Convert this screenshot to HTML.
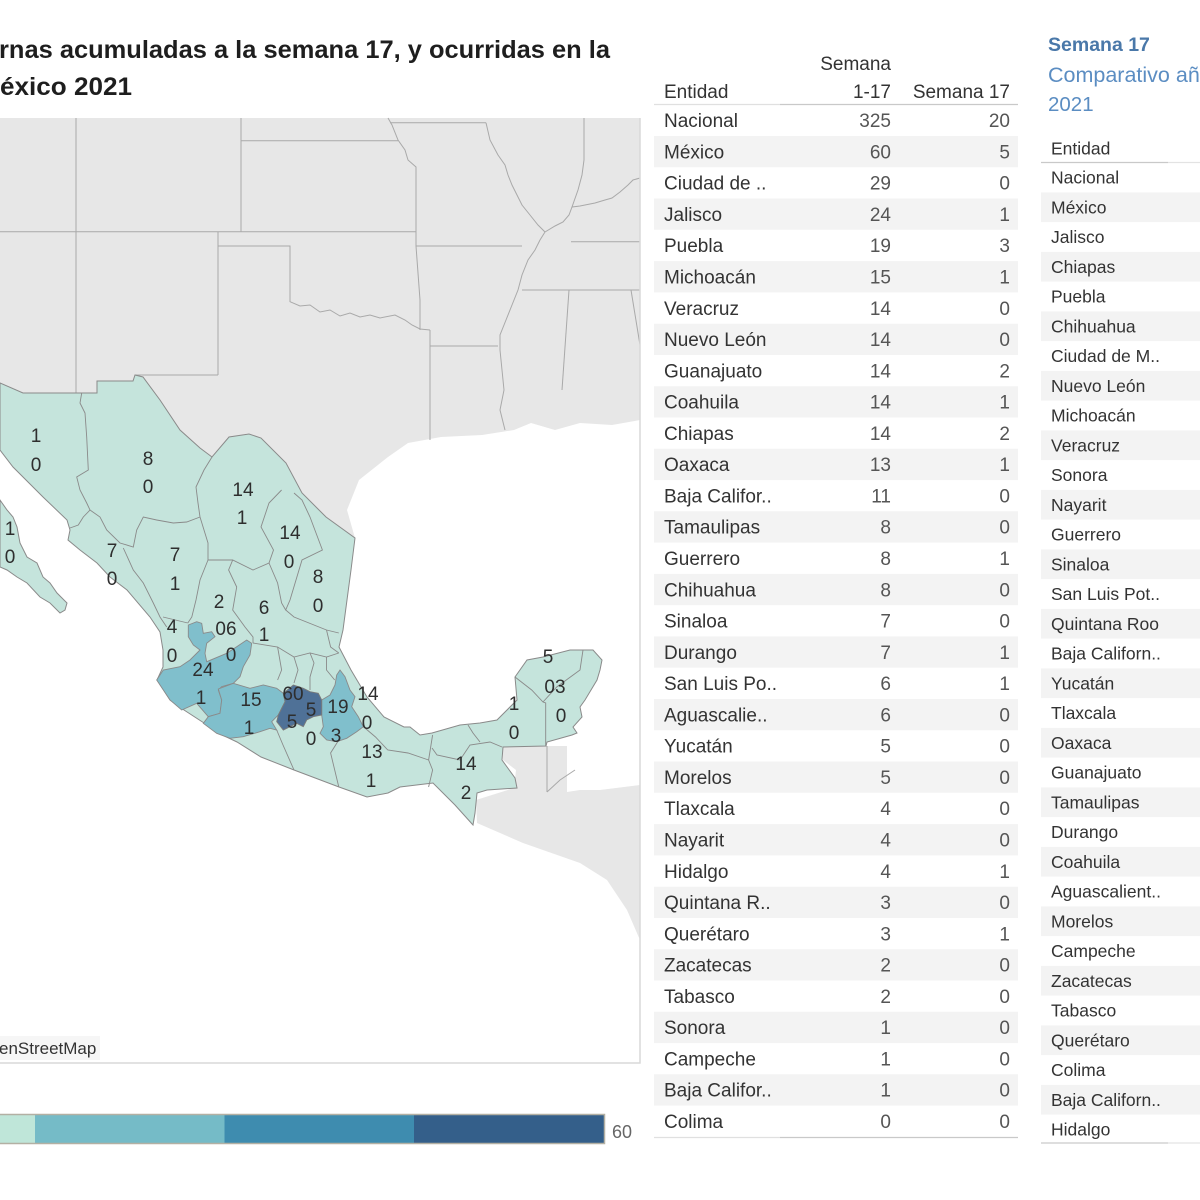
<!DOCTYPE html>
<html><head><meta charset="utf-8"><style>
html,body{margin:0;padding:0;background:#fff;}
body{width:1200px;height:1200px;overflow:hidden;}
svg{display:block;font-family:"Liberation Sans",sans-serif;}
</style></head><body>
<svg width="1200" height="1200" viewBox="0 0 1200 1200" xmlns="http://www.w3.org/2000/svg">
<rect width="1200" height="1200" fill="#fff"/>
<!-- Title -->
<text x="-1" y="58" font-size="25" font-weight="bold" fill="#1e1e1e" textLength="611" lengthAdjust="spacingAndGlyphs">rnas acumuladas a la semana 17, y ocurridas en la</text>
<text x="0" y="95" font-size="25" font-weight="bold" fill="#1e1e1e" textLength="132" lengthAdjust="spacingAndGlyphs">éxico 2021</text>

<!-- MAP -->
<g>
<rect x="0" y="118" width="640" height="945" fill="#fff"/>
<!-- US gray land -->
<polygon fill="#e7e7e7" points="0,118 640,118 640,420 612,425 580,423 555,430 531,423 514,430 482,435 441,437 408,443 388,457 359,480 347,510 355,538 326,517 302,493 286,463 261,438 249,434 229,437 212,457 200,448 180,430 160,400 143,377 135,375 133,381 97,381 97,393 23,393 0,383"/>
<!-- Central America gray -->
<polygon fill="#e7e7e7" points="503,746 547,746 567,746 567,792 580,790 600,790 640,785 640,940 627,910 607,880 580,863 523,843 477,823 476,800 514,788 516,770 503,760"/>
<!-- US state lines -->
<g fill="none" stroke="#a9a9a9" stroke-width="1">
<path d="M76,118 V393"/>
<path d="M0,231.7 H416"/>
<path d="M218,232 V375"/>
<path d="M218,246 H290 V301.7 L300,306 L310,305 L320,312 L330,310 L340,316 L350,313 L360,317 L370,315 L380,318 L395,315 L405,320 L412,325 L420,329 L430,330"/>
<path d="M135,375 H218"/>
<path d="M241,118 V231.7"/>
<path d="M241,140.7 H398"/>
<path d="M388,118 L392,125 L398,140 L405,150 L408,160 L416,167 V246 L420,300 L420,330"/>
<path d="M390,122.7 H486"/>
<path d="M486,122.7 L490,140 L498,155 L505,165 L508,175 L512,185 L517,195 L522,205 L530,215 L538,225 L545,232 L540,240 L535,250 L528,260 L522,275 L518,290 L512,305 L506,320 L500,335 L500,350 L502,370 L504,390 L500,410 L505,430"/>
<path d="M416,246 H522"/>
<path d="M522,290 H640"/>
<path d="M571,241.7 H640"/>
<path d="M584,118 V160 L582,175 L578,190 L572,207 L580,206 L595,203 L605,200 L612,198 L620,192 L628,185 L633,180 L640,178"/>
<path d="M545,232 L555,226 L563,222 L569,215 L572,207"/>
<path d="M569,290 L562,390"/>
<path d="M631,290 L640,345"/>
<path d="M430,346 H498"/>
<path d="M430,330 V440"/>
<path d="M547,746 V792"/>
<path d="M547,792 L560,780 L575,770"/>
</g>
<!-- Mexico mainland -->
<polygon fill="#c5e4dc" stroke="#8a8a8a" stroke-width="1" points="0,383 23,393 97,393 97,381 133,381 135,375 143,377 160,400 180,430 200,448 212,457 229,437 249,434 261,438 286,463 302,493 326,517 355,538 351,570 343,630 339,647 351,670 367,697 384,717 404,727 410,727 420,735 432,733 460,725 480,723 497,720 517,700 515,677 527,660 543,657 570,650 593,650 602,660 600,670 597,680 585,700 580,707 582,717 573,727 577,733 572,735 547,742 546,746 503,747 502,760 515,778 517,788 487,790 477,793 475,813 473,825 455,805 433,783 400,787 388,793 367,797 339,787 294,770 261,757 237,742 218,733 204,723 184,710 170,700 157,680 163,667 163,650 160,632 150,617 127,590 110,577 97,563 80,550 68,540 70,530 67,520 43,497 33,487 13,467 0,450"/>
<!-- Baja peninsula -->
<polygon fill="#c5e4dc" stroke="#8a8a8a" stroke-width="1" points="0,500 7,510 13,517 17,527 20,543 27,557 37,563 43,577 50,583 57,593 67,603 65,610 60,613 50,603 40,597 27,583 17,577 7,570 0,567"/>
<!-- internal borders -->
<g fill="none" stroke="#8a8a8a" stroke-width="0.9">
<path d="M81.7,393 L80,403 L85,413 L86.7,437 L88.3,470 L76.7,477 L80,490 L86.7,503 L90,510 L83.3,517 L78.3,525 L70,528"/>
<path d="M90,510 L100,517 L106.7,530 L120,543 L133.3,547 L136.7,530 L143.3,517 L156.7,520 L173.3,523 L186.7,522 L200,517"/>
<path d="M123.3,548 L133.3,570 L143.3,583 L153.3,603 L160,617 L166.7,627"/>
<path d="M200,517 L198,503 L196,487 L204,470 L212,457"/>
<path d="M200,517 L208,543 L208,560 L232.7,560 L253,570 L269,563 L273.5,550 L261,527 L269,503 L281.6,490"/>
<path d="M294,493 L302,500 L310,517 L322.4,550 L302,560 L290,600 L285.7,610 L294,617 L326.5,630 L338.8,633"/>
<path d="M269,563 L277.6,583 L281.6,603 L285.7,610"/>
<path d="M208,560 L200,580 L196,600 L191.8,617 L187.8,623"/>
<path d="M163,617 L187.8,623"/>
<path d="M232.7,560 L228.6,570 L236.7,587 L232.7,610 L245,627 L253,637 L253,643"/>
<path d="M253,643 L277.6,647 L294,657 L310,653 L326.5,657 L338.8,653"/>
<path d="M326.5,630 L330.6,647 L338.8,653"/>
<path d="M277.6,647 L281.6,670 L277.6,680"/>
<path d="M294,657 L298,670 L294,683"/>
<path d="M310,653 L314,663 L310,677 L310,690"/>
<path d="M326.5,657 L326.5,670 L334.7,680"/>
<path d="M359,723 L375.5,737 L387.8,750 L408,753 L428.6,760"/>
<path d="M338.8,740 L330.6,753 L334.7,770 L338.8,787"/>
<path d="M428.6,760 L432.6,770 L428.6,787"/>
<path d="M428.6,760 L432.6,735"/>
<path d="M432,748 L437,755 L460,760 L470,745 L490,742 L502,747"/>
<path d="M468,725 L473,733 L480,742"/>
<path d="M515,677 L531.7,690 L543,702 L545.7,703 L545.7,746"/>
<path d="M543,702 L556.7,687 L580,670 L583,650"/>
<path d="M276.7,730 L283,745 L294,770"/>
</g>
<!-- Jalisco -->
<polygon fill="#80bfcc" stroke="#8a8a8a" stroke-width="0.9" points="156.7,680 163.3,670 180,666.7 190,660 200,650 193.3,645 188.3,636.7 188.3,625 196.7,621.7 201.7,623.3 203.3,633.3 211.7,631.7 215,636.7 206.7,643.3 205,653.3 206.7,661.7 226.7,653.3 236.7,646.7 246.7,640 251.7,643.3 250,655 243.3,666.7 240,676.7 233.3,683.3 221.7,686.7 218.3,690 221.7,700 220,713.3 208.3,716.7 196.7,703.3 181.7,710 170,700"/>
<!-- Michoacan -->
<polygon fill="#80bfcc" stroke="#8a8a8a" stroke-width="0.9" points="218.3,689 233.3,683.3 250,688.3 263.3,685 276.7,688.3 283.3,693.3 285,701.7 278.3,715 271.7,721.7 276.7,730 270,728.3 260,731.7 243.3,736.7 230,738.3 216.7,733.3 203.3,723.3 208.3,716.7 220,713.3 221.7,700"/>
<!-- Puebla -->
<polygon fill="#80bfcc" stroke="#8a8a8a" stroke-width="0.9" points="340,670 345,676.7 350,690 355,696.7 351.7,706.7 358.3,716.7 363.3,726.7 356.7,731.7 346.7,738.3 336.7,741.7 326.7,740 320,733.3 323.3,726.7 321.7,715 321.7,700 330,695 335,685 336.7,675"/>
<!-- Estado de Mexico -->
<polygon fill="#4f7197" stroke="#7a7a7a" stroke-width="0.9" points="283.3,693.3 293.3,685 303.3,688.3 310,691.7 318.3,693.3 321.7,700 321.7,715 313.3,716.7 306.7,720 303.3,726.7 296.7,723.3 283.3,730 276.7,721.7 278.3,715 285,701.7"/>
<!-- labels -->
<g font-size="19" fill="#2e2e2e" text-anchor="middle">
<text x="36" y="442">1</text><text x="36" y="471">0</text>
<text x="148" y="465">8</text><text x="148" y="493">0</text>
<text x="243" y="496">14</text><text x="242" y="524">1</text>
<text x="10" y="535">1</text><text x="10" y="563">0</text>
<text x="112" y="557">7</text><text x="112" y="585">0</text>
<text x="175" y="561">7</text><text x="175" y="590">1</text>
<text x="290" y="539">14</text><text x="289" y="568">0</text>
<text x="318" y="583">8</text><text x="318" y="612">0</text>
<text x="219" y="608">2</text><text x="264" y="614">6</text>
<text x="172" y="633">4</text><text x="172" y="662">0</text>
<text x="226" y="635">06</text><text x="264" y="641">1</text>
<text x="231" y="661">0</text>
<text x="203" y="676">24</text><text x="201" y="704">1</text>
<text x="251" y="706">15</text><text x="249" y="734">1</text>
<text x="293" y="700">60</text><text x="292" y="728">5</text>
<text x="311" y="716">5</text>
<text x="338" y="713">19</text><text x="336" y="742">3</text>
<text x="368" y="700">14</text><text x="367" y="729">0</text>
<text x="311" y="745">0</text>
<text x="372" y="758">13</text><text x="371" y="787">1</text>
<text x="466" y="770">14</text><text x="466" y="799">2</text>
<text x="514" y="710">1</text><text x="514" y="739">0</text>
<text x="548" y="663">5</text><text x="555" y="693">03</text><text x="561" y="722">0</text>
</g>
<!-- attribution -->
<rect x="0" y="1036" width="100" height="24" fill="#f6f6f6"/>
<text x="-1" y="1054" font-size="17" fill="#333">enStreetMap</text>
<!-- map border -->
<path d="M0,1063 H640 V118" fill="none" stroke="#d9d9d9" stroke-width="1.5"/>
</g>

<!-- Legend -->
<rect x="0" y="1114.5" width="35" height="29" fill="#bfe6d9"/>
<rect x="35" y="1114.5" width="189.5" height="29" fill="#75bbc7"/>
<rect x="224.5" y="1114.5" width="189.5" height="29" fill="#3e8caf"/>
<rect x="414" y="1114.5" width="190.5" height="29" fill="#345f8a"/>
<rect x="-2" y="1114.5" width="606.5" height="29" fill="none" stroke="#b3b0a3" stroke-width="1.5"/>
<text x="612" y="1138" font-size="18" fill="#666">60</text>

<!-- Middle table -->
<g fill="#f3f3f3">
<rect x="654" y="136" width="364" height="31.28"/>
<rect x="654" y="198.5" width="364" height="31.28"/>
<rect x="654" y="261.1" width="364" height="31.28"/>
<rect x="654" y="323.7" width="364" height="31.28"/>
<rect x="654" y="386.2" width="364" height="31.28"/>
<rect x="654" y="448.8" width="364" height="31.28"/>
<rect x="654" y="511.3" width="364" height="31.28"/>
<rect x="654" y="573.9" width="364" height="31.28"/>
<rect x="654" y="636.4" width="364" height="31.28"/>
<rect x="654" y="699" width="364" height="31.28"/>
<rect x="654" y="761.5" width="364" height="31.28"/>
<rect x="654" y="824.1" width="364" height="31.28"/>
<rect x="654" y="886.7" width="364" height="31.28"/>
<rect x="654" y="949.2" width="364" height="31.28"/>
<rect x="654" y="1011.8" width="364" height="31.28"/>
<rect x="654" y="1074.3" width="364" height="31.28"/>
</g>
<path d="M654,104.5 H780" stroke="#e0e0e0" stroke-width="1.2"/>
<path d="M780,104.5 H1018" stroke="#c9c9c9" stroke-width="1.2"/>
<path d="M654,1137.5 H780" stroke="#e0e0e0" stroke-width="1.2"/>
<path d="M780,1137.5 H1018" stroke="#c9c9c9" stroke-width="1.2"/>
<g font-size="19" fill="#333">
<text x="891" y="70" text-anchor="end">Semana</text>
<text x="664" y="98">Entidad</text>
<text x="891" y="98" text-anchor="end">1-17</text>
<text x="1010" y="98" text-anchor="end">Semana 17</text>
</g>
<g font-size="19" fill="#333">
<text x="664" y="127.1">Nacional</text>
<text x="664" y="158.4">México</text>
<text x="664" y="189.7">Ciudad de ..</text>
<text x="664" y="221">Jalisco</text>
<text x="664" y="252.2">Puebla</text>
<text x="664" y="283.5">Michoacán</text>
<text x="664" y="314.8">Veracruz</text>
<text x="664" y="346.1">Nuevo León</text>
<text x="664" y="377.4">Guanajuato</text>
<text x="664" y="408.6">Coahuila</text>
<text x="664" y="439.9">Chiapas</text>
<text x="664" y="471.2">Oaxaca</text>
<text x="664" y="502.5">Baja Califor..</text>
<text x="664" y="533.7">Tamaulipas</text>
<text x="664" y="565">Guerrero</text>
<text x="664" y="596.3">Chihuahua</text>
<text x="664" y="627.6">Sinaloa</text>
<text x="664" y="658.9">Durango</text>
<text x="664" y="690.1">San Luis Po..</text>
<text x="664" y="721.4">Aguascalie..</text>
<text x="664" y="752.7">Yucatán</text>
<text x="664" y="784">Morelos</text>
<text x="664" y="815.2">Tlaxcala</text>
<text x="664" y="846.5">Nayarit</text>
<text x="664" y="877.8">Hidalgo</text>
<text x="664" y="909.1">Quintana R..</text>
<text x="664" y="940.4">Querétaro</text>
<text x="664" y="971.6">Zacatecas</text>
<text x="664" y="1002.9">Tabasco</text>
<text x="664" y="1034.2">Sonora</text>
<text x="664" y="1065.5">Campeche</text>
<text x="664" y="1096.7">Baja Califor..</text>
<text x="664" y="1128">Colima</text>
</g>
<g font-size="19" fill="#555" text-anchor="end">
<text x="891" y="127.1">325</text><text x="1010" y="127.1">20</text>
<text x="891" y="158.4">60</text><text x="1010" y="158.4">5</text>
<text x="891" y="189.7">29</text><text x="1010" y="189.7">0</text>
<text x="891" y="221">24</text><text x="1010" y="221">1</text>
<text x="891" y="252.2">19</text><text x="1010" y="252.2">3</text>
<text x="891" y="283.5">15</text><text x="1010" y="283.5">1</text>
<text x="891" y="314.8">14</text><text x="1010" y="314.8">0</text>
<text x="891" y="346.1">14</text><text x="1010" y="346.1">0</text>
<text x="891" y="377.4">14</text><text x="1010" y="377.4">2</text>
<text x="891" y="408.6">14</text><text x="1010" y="408.6">1</text>
<text x="891" y="439.9">14</text><text x="1010" y="439.9">2</text>
<text x="891" y="471.2">13</text><text x="1010" y="471.2">1</text>
<text x="891" y="502.5">11</text><text x="1010" y="502.5">0</text>
<text x="891" y="533.7">8</text><text x="1010" y="533.7">0</text>
<text x="891" y="565">8</text><text x="1010" y="565">1</text>
<text x="891" y="596.3">8</text><text x="1010" y="596.3">0</text>
<text x="891" y="627.6">7</text><text x="1010" y="627.6">0</text>
<text x="891" y="658.9">7</text><text x="1010" y="658.9">1</text>
<text x="891" y="690.1">6</text><text x="1010" y="690.1">1</text>
<text x="891" y="721.4">6</text><text x="1010" y="721.4">0</text>
<text x="891" y="752.7">5</text><text x="1010" y="752.7">0</text>
<text x="891" y="784">5</text><text x="1010" y="784">0</text>
<text x="891" y="815.2">4</text><text x="1010" y="815.2">0</text>
<text x="891" y="846.5">4</text><text x="1010" y="846.5">0</text>
<text x="891" y="877.8">4</text><text x="1010" y="877.8">1</text>
<text x="891" y="909.1">3</text><text x="1010" y="909.1">0</text>
<text x="891" y="940.4">3</text><text x="1010" y="940.4">1</text>
<text x="891" y="971.6">2</text><text x="1010" y="971.6">0</text>
<text x="891" y="1002.9">2</text><text x="1010" y="1002.9">0</text>
<text x="891" y="1034.2">1</text><text x="1010" y="1034.2">0</text>
<text x="891" y="1065.5">1</text><text x="1010" y="1065.5">0</text>
<text x="891" y="1096.7">1</text><text x="1010" y="1096.7">0</text>
<text x="891" y="1128">0</text><text x="1010" y="1128">0</text>
</g>

<!-- Right panel -->
<text x="1048" y="51" font-size="19.5" font-weight="bold" fill="#4a78a9">Semana 17</text>
<text x="1048" y="82" font-size="21.5" fill="#5b8dc2">Comparativo años</text>
<text x="1048" y="111" font-size="20.5" fill="#5b8dc2">2021</text>
<g fill="#f3f3f3">
<rect x="1041" y="192.35" width="159" height="29.75"/>
<rect x="1041" y="251.85" width="159" height="29.75"/>
<rect x="1041" y="311.35" width="159" height="29.75"/>
<rect x="1041" y="370.85" width="159" height="29.75"/>
<rect x="1041" y="430.35" width="159" height="29.75"/>
<rect x="1041" y="489.85" width="159" height="29.75"/>
<rect x="1041" y="549.35" width="159" height="29.75"/>
<rect x="1041" y="608.85" width="159" height="29.75"/>
<rect x="1041" y="668.35" width="159" height="29.75"/>
<rect x="1041" y="727.85" width="159" height="29.75"/>
<rect x="1041" y="787.35" width="159" height="29.75"/>
<rect x="1041" y="846.85" width="159" height="29.75"/>
<rect x="1041" y="906.35" width="159" height="29.75"/>
<rect x="1041" y="965.85" width="159" height="29.75"/>
<rect x="1041" y="1025.35" width="159" height="29.75"/>
<rect x="1041" y="1084.85" width="159" height="29.75"/>
</g>
<path d="M1041,162.5 H1168" stroke="#c9c9c9" stroke-width="1.2"/>
<path d="M1168,162.5 H1200" stroke="#e3e3e3" stroke-width="1.2"/>
<path d="M1041,1143 H1168" stroke="#c9c9c9" stroke-width="1.2"/>
<path d="M1168,1143 H1200" stroke="#e3e3e3" stroke-width="1.2"/>
<g font-size="17.5" fill="#333">
<text x="1051" y="154.5">Entidad</text>
<text x="1051" y="183.7">Nacional</text>
<text x="1051" y="213.5">México</text>
<text x="1051" y="243.2">Jalisco</text>
<text x="1051" y="273">Chiapas</text>
<text x="1051" y="302.7">Puebla</text>
<text x="1051" y="332.5">Chihuahua</text>
<text x="1051" y="362.2">Ciudad de M..</text>
<text x="1051" y="392">Nuevo León</text>
<text x="1051" y="421.7">Michoacán</text>
<text x="1051" y="451.5">Veracruz</text>
<text x="1051" y="481.2">Sonora</text>
<text x="1051" y="511">Nayarit</text>
<text x="1051" y="540.7">Guerrero</text>
<text x="1051" y="570.5">Sinaloa</text>
<text x="1051" y="600.2">San Luis Pot..</text>
<text x="1051" y="630">Quintana Roo</text>
<text x="1051" y="659.7">Baja Californ..</text>
<text x="1051" y="689.5">Yucatán</text>
<text x="1051" y="719.2">Tlaxcala</text>
<text x="1051" y="749">Oaxaca</text>
<text x="1051" y="778.7">Guanajuato</text>
<text x="1051" y="808.5">Tamaulipas</text>
<text x="1051" y="838.2">Durango</text>
<text x="1051" y="868">Coahuila</text>
<text x="1051" y="897.7">Aguascalient..</text>
<text x="1051" y="927.5">Morelos</text>
<text x="1051" y="957.2">Campeche</text>
<text x="1051" y="987">Zacatecas</text>
<text x="1051" y="1016.7">Tabasco</text>
<text x="1051" y="1046.5">Querétaro</text>
<text x="1051" y="1076.2">Colima</text>
<text x="1051" y="1106">Baja Californ..</text>
<text x="1051" y="1135.7">Hidalgo</text>
</g>
</svg>
</body></html>
